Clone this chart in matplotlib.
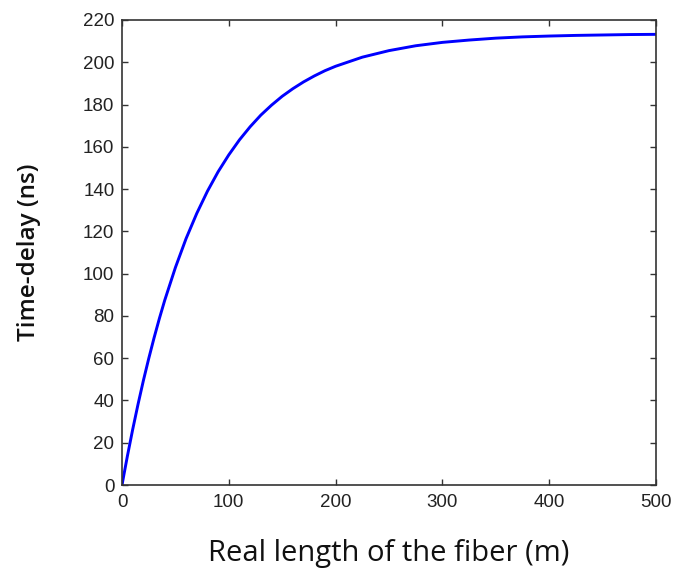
import matplotlib.pyplot as plt

# fiber length (m) and measured time-delay (ns)
length_m = [0, 2, 5, 10, 15, 20, 25, 30, 35, 40, 50, 60, 70, 80, 90, 100,
            110, 120, 130, 140, 150, 160, 170, 180, 190, 200, 225, 250,
            275, 300, 325, 350, 375, 400, 425, 450, 475, 500]
delay_ns = [0, 5.5, 13.6, 26.3, 38.2, 49.4, 59.8, 69.6, 78.8, 87.4, 102.9,
            116.6, 128.5, 139.0, 148.2, 156.2, 163.3, 169.5, 175.0, 179.7,
            183.9, 187.5, 190.7, 193.5, 196.0, 198.1, 202.4, 205.5, 207.8,
            209.4, 210.5, 211.4, 212.0, 212.4, 212.7, 212.9, 213.1, 213.2]

fig = plt.figure(figsize=(6.73, 5.69), dpi=100)
ax = fig.add_axes([0.1813, 0.1476, 0.7934, 0.8173])

ax.plot(length_m, delay_ns, color='#0000ff', linewidth=2.1)

ax.set_xlim(0, 500)
ax.set_ylim(0, 220)
ax.set_xticks(range(0, 501, 100))
ax.set_yticks(range(0, 221, 20))

ax.tick_params(direction='in', top=True, right=True, length=4, width=1,
               colors='#333333', labelsize=13.5, labelcolor='#222222')
ax.tick_params(axis='x', pad=6.5)
ax.tick_params(axis='y', pad=5.5)
for lab in ax.get_xticklabels() + ax.get_yticklabels():
    lab.set_family('Liberation Sans')
for sp in ax.spines.values():
    sp.set_linewidth(1.2)
    sp.set_color('#333333')

ax.set_xlabel('Real length of the fiber (m)', family='Open Sans', fontsize=21,
              labelpad=20, color='#111111')
ax.set_ylabel('Time-delay (ns)', family='Open Sans', fontsize=17.5,
              fontweight='semibold', labelpad=30, color='#111111')

fig.savefig('out.png', dpi=100)
